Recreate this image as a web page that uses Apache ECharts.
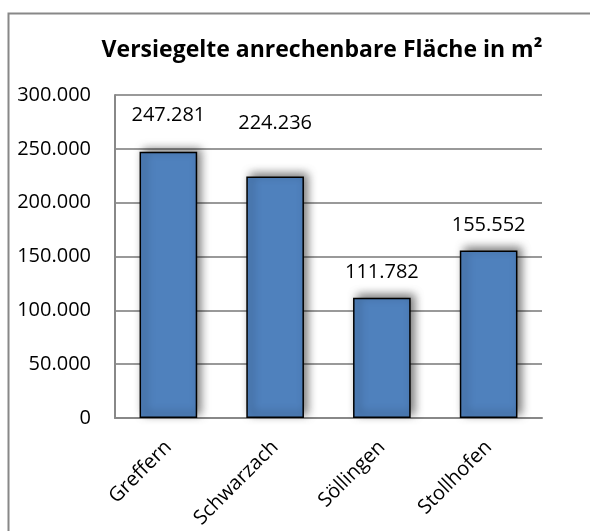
<!DOCTYPE html>
<html>
<head>
<meta charset="utf-8">
<script src="https://cdn.jsdelivr.net/npm/echarts@6/dist/echarts.min.js"></script>
<style>
  html, body { margin: 0; padding: 0; background: #fff; }
  #chart { width: 590px; height: 531px; }
</style>
</head>
<body>
<div id="chart"></div>
<script>
// Daten
const orte = ['Greffern', 'Schwarzach', 'Söllingen', 'Stollhofen'];
const flaeche = [247281, 224236, 111782, 155552];
const yTicks = [0, 50000, 100000, 150000, 200000, 250000, 300000];

const font = '"Open Sans", "Liberation Sans", sans-serif';

// Zahlen im deutschen Format: 247.281
const fmt = v => String(v).replace(/\B(?=(\d{3})+(?!\d))/g, '.');

// Beschriftungen wie im Original leicht versetzt
const labelShift = [-11, -28, 0, 0];

const chart = echarts.init(document.getElementById('chart'));

const option = {
    animation: false,
    backgroundColor: '#fff',
    title: {
        text: 'Versiegelte anrechenbare Fläche in m²',
        left: 317,
        top: 34,
        textAlign: 'center',
        textStyle: { fontFamily: font, fontSize: 23, fontWeight: 'bold', color: '#000' }
    },
    graphic: [{
        type: 'rect',
        shape: { x: 8.5, y: 13.5, width: 700, height: 700 },
        style: { fill: 'none', stroke: '#888', lineWidth: 2 },
        z: -1
    }],
    grid: { left: 115, right: 48, top: 95, bottom: 113 },
    xAxis: {
        type: 'category',
        data: orte,
        axisLine: { lineStyle: { color: '#888', width: 2 } },
        axisTick: { show: false },
        axisLabel: {
            interval: 0,
            rotate: 45,
            margin: 26,
            color: '#000',
            fontFamily: font,
            fontSize: 20
        }
    },
    yAxis: {
        type: 'value',
        min: yTicks[0],
        max: yTicks[yTicks.length - 1],
        interval: yTicks[1] - yTicks[0],
        axisLine: { show: true, lineStyle: { color: '#888', width: 2 } },
        axisTick: { show: false },
        splitLine: { lineStyle: { color: '#999', width: 2 } },
        axisLabel: {
            margin: 24,
            color: '#000',
            fontFamily: font,
            fontSize: 20,
            formatter: fmt
        }
    },
    series: [{
        type: 'bar',
        barCategoryGap: '46%',
        data: flaeche.map((v, i) => ({
            value: v,
            label: { offset: [0, labelShift[i]] }
        })),
        itemStyle: {
            color: '#4F81BD',
            borderColor: '#000',
            borderWidth: 1.5,
            shadowColor: 'rgba(0,0,0,0.55)',
            shadowBlur: 9,
            shadowOffsetX: 4,
            shadowOffsetY: -3
        },
        label: {
            show: true,
            position: 'top',
            distance: 15,
            color: '#000',
            fontFamily: font,
            fontSize: 20,
            formatter: p => fmt(p.value)
        }
    }]
};

option && chart.setOption(option);
</script>
</body>
</html>
